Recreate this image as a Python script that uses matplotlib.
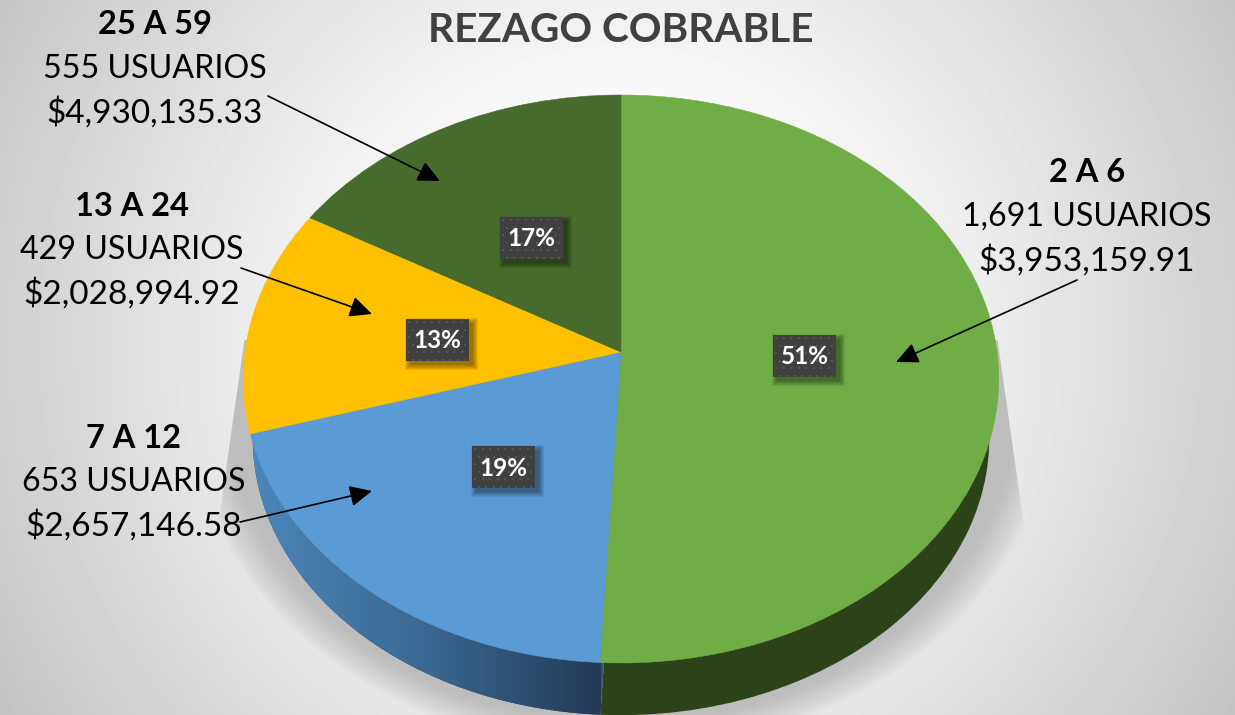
import numpy as np
import matplotlib
matplotlib.use("Agg")
import matplotlib.pyplot as plt
from matplotlib.patches import Rectangle
from matplotlib.transforms import Transform
from matplotlib.colors import LinearSegmentedColormap

plt.rcParams['font.family'] = ['Lato', 'DejaVu Sans']

title = "REZAGO COBRABLE"
groups = ["2 A 6", "7 A 12", "13 A 24", "25 A 59"]
usuarios = [1691, 653, 429, 555]
usuarios_txt = ["1,691 USUARIOS", "653 USUARIOS", "429 USUARIOS", "555 USUARIOS"]
montos = ["$3,953,159.91", "$2,657,146.58", "$2,028,994.92", "$4,930,135.33"]
porcentajes = ["51%", "19%", "13%", "17%"]
top_colors = ["#70AD47", "#5B9BD5", "#FFC000", "#466B2C"]
side_colors = ["#2C4319", "#2F5478", "#2F5478", "#2C4319"]

label_xy = [(1087, 173), (134, 438), (132, 206), (155, 25)]
arrows = [((1077, 280), (896, 362)), ((240, 522), (372, 491)),
          ((241, 268), (372, 314)), ((268, 96), (440, 181))]
box_xy = [(773, 335), (472, 446), (406, 319), (500, 217)]
BOX_W, BOX_H = 63, 42

W, H = 1235, 715


class Persp(Transform):
    """Perspective view of the unit-circle pie, into pixel coordinates."""
    input_dims = 2
    output_dims = 2
    is_separable = False

    def __init__(self, cx, cy, a, b, k):
        super().__init__()
        self.cx, self.cy, self.a, self.b, self.k = cx, cy, a, b, k

    def transform_non_affine(self, v):
        v = np.asarray(v, float)
        d = 1 + self.k * v[:, 1]
        return np.column_stack([self.cx + self.b * v[:, 0] / d,
                                self.cy - self.a * v[:, 1] / d])


fig = plt.figure(figsize=(W / 100, H / 100), dpi=100)
ax = fig.add_axes([0, 0, 1, 1])

# background: radial gradient with the soft floor shadow
yy, xx = np.mgrid[0:H, 0:W] + 0.5
r = np.hypot(xx - 620, yy - 340)
bg = 1.0 - 0.235 * np.clip((r - 170) / 550, 0, 1) ** 1.15
d = np.hypot((xx - 621) / 432, (yy - 402) / 350)
sh = np.clip((1.0 - d) / 0.085, 0, 1)
sh = sh ** 0.8
half = np.abs(xx - 621)
edge = 378 + (yy - 350) * 27 / 190
sh = sh * np.clip(edge - half + 0.5, 0, 1) * (yy > 340)
img = bg * (1 - sh) + 0.74 * sh
ax.imshow(img, cmap="gray", vmin=0, vmax=1, extent=(0, W, H, 0), zorder=0,
          interpolation="bilinear", aspect="auto")

# lower (side) pie, then upper pie
low, _ = ax.pie(usuarios, colors=side_colors, startangle=90, counterclock=False)
trans_low = Persp(621, 352 + 60, 281.4 * 0.975, 376 * 0.975, 0.095) + ax.transData
for w in low:
    w.set_transform(trans_low)
    w.set_zorder(1)
    w.set_linewidth(0)

cmap = LinearSegmentedColormap.from_list("side", ["#4C86BA", "#3A6891", "#223A56"])
grad = np.linspace(0, 1, 256)[None, :]
for w in low[1:3]:
    w.set_facecolor("#2F5478")
    im = ax.imshow(grad, cmap=cmap, extent=(252, 601, H, 380), zorder=1.5, aspect="auto")
    im.set_clip_path(w)

top, _ = ax.pie(usuarios, colors=top_colors, startangle=90, counterclock=False)
trans_top = Persp(621, 352, 281.4, 376, 0.095) + ax.transData
for w, c in zip(top, top_colors):
    w.set_transform(trans_top)
    w.set_zorder(2)
    w.set_edgecolor(c)
    w.set_linewidth(0.4)

ax.set_aspect("auto")
ax.set_xlim(0, W)
ax.set_ylim(H, 0)
ax.axis("off")

# percent boxes
for (x, y), pct in zip(box_xy, porcentajes):
    for s in range(0, 6):
        ax.add_patch(Rectangle((x + 4 - s, y + 4 - s), BOX_W + 2 * s, BOX_H + 2 * s,
                               fc="black", alpha=0.075, lw=0, zorder=3))
    ax.add_patch(Rectangle((x, y), BOX_W, BOX_H, fc="#404040", lw=0, zorder=3.1))
    gx, gy = [], []
    for j, py in enumerate(np.arange(y + 3, y + BOX_H, 7.5)):
        xs = np.arange(x + 3 + (j % 2) * 3.75, x + BOX_W - 1, 7.5)
        gx.extend(xs)
        gy.extend([py] * len(xs))
    ax.scatter(gx, gy, s=3.0, marker="s", c="#555555", linewidths=0, zorder=3.2)
    ax.text(x + BOX_W / 2, y + BOX_H / 2 + 1, pct, color="white", fontsize=17.5,
            fontweight="bold", ha="center", va="center", zorder=3.3)

# arrows
for start, end in arrows:
    ax.annotate("", xy=end, xytext=start, zorder=4,
                arrowprops=dict(arrowstyle="-|>,head_length=0.85,head_width=0.4",
                                color="black", lw=1.2, shrinkA=0, shrinkB=0,
                                mutation_scale=16))

# labels
for (x, y), g, u, m in zip(label_xy, groups, usuarios_txt, montos):
    ax.text(x, y, g, fontsize=23.5, fontweight="bold", color="black",
            ha="center", va="center", zorder=5)
    ax.text(x, y + 44, u, fontsize=23.2, color="black", ha="center", va="center", zorder=5)
    ax.text(x, y + 88, m, fontsize=24, color="black", ha="center", va="center", zorder=5)

ax.text(621, 30, title, fontsize=29.2, fontweight="bold", color="#404040",
        ha="center", va="center", zorder=5)

fig.savefig("out.png", dpi=100)
